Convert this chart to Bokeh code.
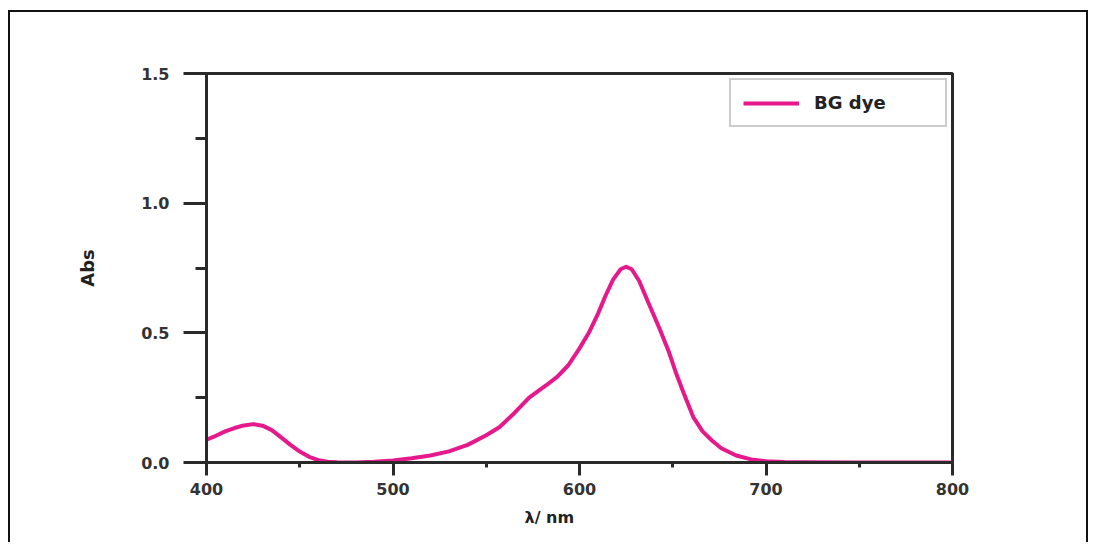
from bokeh.plotting import figure
from bokeh.models import Range1d, Title, Legend, LegendItem, FixedTicker, PrintfTickFormatter
from bokeh.embed import file_html
from bokeh.resources import INLINE

wavelength = [400, 405, 410, 415, 420, 425, 430, 435, 440, 445, 450, 455, 460, 465, 470,
              480, 490, 500, 510, 520, 530, 540, 550, 557, 565, 573, 582, 588, 594, 600,
              605, 610, 614, 618, 622, 625, 628, 632, 637, 643, 648, 652, 656, 661, 666,
              671, 676, 684, 692, 700, 710, 720, 750, 800]
absorbance = [0.088, 0.103, 0.120, 0.133, 0.143, 0.148, 0.142, 0.125, 0.097, 0.068, 0.042,
              0.022, 0.009, 0.003, 0.001, 0.000, 0.003, 0.008, 0.016, 0.027, 0.043, 0.068,
              0.105, 0.136, 0.190, 0.250, 0.297, 0.330, 0.375, 0.440, 0.500, 0.575, 0.644,
              0.705, 0.745, 0.755, 0.745, 0.700, 0.615, 0.515, 0.425, 0.340, 0.265, 0.175,
              0.120, 0.085, 0.055, 0.027, 0.012, 0.005, 0.002, 0.001, 0.000, 0.000]
x_ticks = [400, 500, 600, 700, 800]
y_ticks = [0.0, 0.5, 1.0, 1.5]
series_name = "BG dye"
x_label = "λ/ nm"
y_label = "Abs"

FONT = "DejaVu Sans"
AX = "#2a2a2a"

p = figure(output_backend="svg", toolbar_location=None,
           x_range=Range1d(400, 800), y_range=Range1d(0, 1.5),
           frame_width=746, frame_height=389,
           min_border_left=196, min_border_top=61, min_border_right=134, min_border_bottom=80)
p.styles = {"border-left": "2px solid #111", "border-top": "2px solid #111",
            "border-right": "2px solid #111", "margin-left": "8px", "margin-top": "10px"}

p.grid.visible = False
p.outline_line_color = AX
p.outline_line_width = 3
p.background_fill_color = "white"
p.border_fill_color = "white"

xa = p.xaxis[0]
xa.ticker = FixedTicker(ticks=x_ticks, minor_ticks=[450, 550, 650, 750])
xa.axis_line_color = AX
xa.axis_line_width = 3
xa.major_tick_line_color = AX
xa.major_tick_line_width = 3
xa.major_tick_out = 13
xa.major_tick_in = 0
xa.minor_tick_line_color = AX
xa.minor_tick_line_width = 3
xa.minor_tick_out = 5
xa.minor_tick_in = 0
xa.major_label_text_font = FONT
xa.major_label_text_font_style = "bold"
xa.major_label_text_font_size = "16px"
xa.major_label_text_color = "#333333"
xa.major_label_standoff = 7

ya = p.yaxis[0]
ya.ticker = FixedTicker(ticks=y_ticks, minor_ticks=[0.25, 0.75, 1.25])
ya.formatter = PrintfTickFormatter(format="%.1f")
ya.axis_line_color = AX
ya.axis_line_width = 3
ya.major_tick_line_color = AX
ya.major_tick_line_width = 3
ya.major_tick_out = 23
ya.major_tick_in = 0
ya.minor_tick_line_color = AX
ya.minor_tick_line_width = 3
ya.minor_tick_out = 11
ya.minor_tick_in = 0
ya.major_label_text_font = FONT
ya.major_label_text_font_style = "bold"
ya.major_label_text_font_size = "16px"
ya.major_label_text_color = "#333333"
ya.major_label_standoff = 14
ya.axis_label = y_label
ya.axis_label_text_font = FONT
ya.axis_label_text_font_style = "bold"
ya.axis_label_text_font_size = "18px"
ya.axis_label_text_color = "#222222"
ya.axis_label_standoff = 40

r = p.line(wavelength, absorbance, line_color="#E6198C", line_width=4, line_join="round")

xt = Title(text=x_label, align="left", offset=318, standoff=17,
           text_font=FONT, text_font_style="bold", text_font_size="16px", text_color="#222222")
p.add_layout(xt, "below")

legend = Legend(items=[LegendItem(label=series_name, renderers=[r])], location="top_right")
legend.margin = 5
legend.padding = 12
legend.glyph_width = 56
legend.glyph_height = 20
legend.label_height = 20
legend.label_width = 119
legend.label_standoff = 15
legend.border_line_color = "#9a9a9a"
legend.border_line_width = 2
legend.label_text_font = FONT
legend.label_text_font_style = "bold"
legend.label_text_font_size = "18px"
legend.label_text_color = "#222222"
p.add_layout(legend)

open("out.html", "w").write(file_html(p, INLINE))
